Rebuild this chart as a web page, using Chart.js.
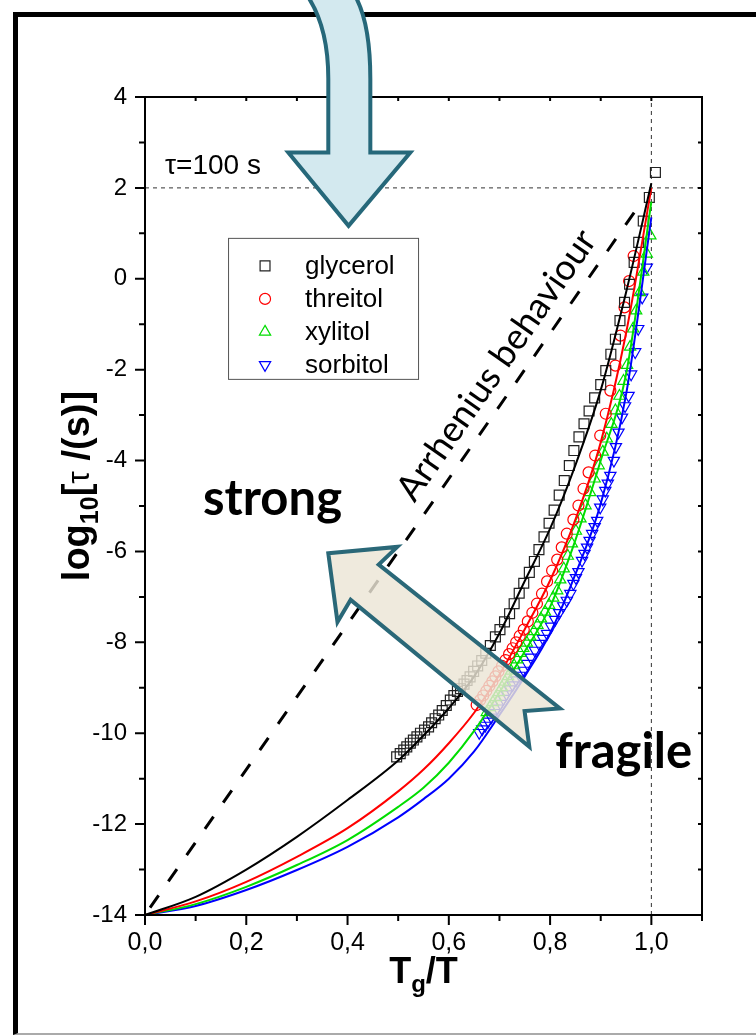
<!DOCTYPE html>
<html>
<head>
<meta charset="utf-8">
<script src="https://cdn.jsdelivr.net/npm/chart.js@4.4.1/dist/chart.umd.min.js"></script>
<style>
  html, body { margin: 0; padding: 0; background: #fff; overflow: hidden; }
  #frame { position: absolute; left: 13px; top: 12px; width: 800px; height: 1016px;
           border-left: 5px solid #000; border-top: 5px solid #000; border-bottom: 2px solid #aaa; }
  #wrap { position: absolute; left: 0; top: 0; width: 756px; height: 1036px; }
</style>
</head>
<body>
<div id="frame"></div>
<div id="wrap"><canvas id="chart"></canvas></div>
<script>
// ---- values ----
var xTickValues = [0, 0.2, 0.4, 0.6, 0.8, 1.0];
var yTickValues = [-14, -12, -10, -8, -6, -4, -2, 0, 2, 4];
var seriesNames = ['glycerol', 'threitol', 'xylitol', 'sorbitol'];

var glycerolX = [0.497, 0.504, 0.511, 0.517, 0.524, 0.530, 0.537, 0.544, 0.552, 0.560, 0.566, 0.573, 0.580, 0.587, 0.595,
  0.603, 0.610, 0.617, 0.623, 0.630, 0.636, 0.642, 0.649, 0.657, 0.665, 0.673, 0.682, 0.692, 0.701, 0.710, 0.720, 0.729,
  0.739, 0.748, 0.759, 0.769, 0.778, 0.788, 0.798, 0.808, 0.818, 0.828, 0.838, 0.847, 0.857, 0.867, 0.877, 0.888, 0.900,
  0.910, 0.920, 0.929, 0.938, 0.947, 0.957, 0.966, 0.975, 0.984, 0.996, 1.008];
var glycerolY = [-10.52, -10.45, -10.37, -10.30, -10.22, -10.15, -10.08, -10.00, -9.93, -9.86, -9.77, -9.68, -9.60, -9.50, -9.39,
  -9.27, -9.17, -9.08, -9.02, -8.92, -8.84, -8.76, -8.64, -8.52, -8.40, -8.24, -8.07, -7.88, -7.72, -7.55, -7.37, -7.15,
  -6.92, -6.70, -6.46, -6.22, -5.96, -5.68, -5.38, -5.09, -4.76, -4.44, -4.11, -3.78, -3.48, -3.19, -2.91, -2.62, -2.33,
  -2.02, -1.66, -1.33, -0.92, -0.52, -0.12, 0.36, 0.80, 1.27, 1.79, 2.34];

var threitolX = [0.655, 0.662, 0.668, 0.674, 0.680, 0.686, 0.692, 0.698, 0.705, 0.712, 0.719, 0.726, 0.733, 0.740, 0.748,
  0.756, 0.765, 0.774, 0.784, 0.794, 0.804, 0.814, 0.823, 0.833, 0.846, 0.856, 0.866, 0.876, 0.889, 0.899, 0.910, 0.919,
  0.929, 0.939, 0.947, 0.956, 0.965];
var threitolY = [-9.38, -9.27, -9.17, -9.07, -8.96, -8.86, -8.75, -8.64, -8.52, -8.39, -8.26, -8.13, -8.00, -7.86, -7.72,
  -7.54, -7.35, -7.15, -6.93, -6.66, -6.42, -6.18, -5.91, -5.61, -5.30, -4.99, -4.62, -4.26, -3.89, -3.45, -2.97, -2.46,
  -1.91, -1.25, -0.63, -0.05, 0.50];

var xylitolX = [0.675, 0.681, 0.687, 0.693, 0.699, 0.705, 0.711, 0.717, 0.723, 0.729, 0.735, 0.741, 0.747, 0.754, 0.761,
  0.768, 0.775, 0.782, 0.790, 0.798, 0.806, 0.814, 0.820, 0.827, 0.835, 0.843, 0.851, 0.860, 0.870, 0.879, 0.888, 0.896,
  0.904, 0.912, 0.921, 0.929, 0.937, 0.945, 0.952, 0.958, 0.964, 0.970, 0.977, 0.984, 0.991, 0.998];
var xylitolY = [-9.54, -9.43, -9.32, -9.21, -9.10, -8.99, -8.87, -8.75, -8.63, -8.51, -8.38, -8.24, -8.13, -8.01, -7.88,
  -7.76, -7.62, -7.48, -7.33, -7.18, -7.02, -6.86, -6.62, -6.38, -6.10, -5.83, -5.55, -5.28, -4.99, -4.70, -4.40, -4.11,
  -3.81, -3.52, -3.20, -2.90, -2.58, -2.25, -1.90, -1.50, -1.10, -0.70, -0.30, 0.15, 0.55, 0.95];

var sorbitolX = [0.660, 0.666, 0.672, 0.678, 0.684, 0.690, 0.696, 0.702, 0.708, 0.714, 0.720, 0.726, 0.733, 0.740, 0.748,
  0.755, 0.762, 0.770, 0.778, 0.786, 0.794, 0.802, 0.810, 0.818, 0.826, 0.833, 0.840, 0.846, 0.851, 0.856, 0.863, 0.868,
  0.873, 0.878, 0.883, 0.888, 0.893, 0.899, 0.904, 0.909, 0.914, 0.919, 0.926, 0.930, 0.935, 0.942, 0.948, 0.955, 0.960,
  0.968, 0.974, 0.982, 0.991];
var sorbitolY = [-9.99, -9.91, -9.83, -9.74, -9.65, -9.55, -9.45, -9.35, -9.24, -9.14, -9.03, -8.94, -8.83, -8.73, -8.62,
  -8.47, -8.33, -8.18, -8.03, -7.92, -7.81, -7.65, -7.50, -7.35, -7.20, -7.08, -6.93, -6.71, -6.58, -6.45, -6.20, -6.05,
  -5.91, -5.76, -5.61, -5.46, -5.32, -5.03, -4.85, -4.66, -4.50, -4.33, -4.00, -3.70, -3.38, -3.05, -2.80, -2.57, -2.10,
  -1.61, -1.10, -0.41, 0.25];

// fitted curves
var fitX = [0, 0.1, 0.2, 0.3, 0.4, 0.5, 0.55, 0.6, 0.65, 0.7, 0.75, 0.8, 0.85, 0.9, 0.95, 1.0];
var glycerolFit = [-14, -13.6, -13.0, -12.28, -11.47, -10.6, -10.05, -9.45, -8.75, -7.8, -6.65, -5.5, -4.1, -2.45, -0.3, 2.1];
var threitolFit = [-14, -13.7, -13.27, -12.72, -12.09, -11.28, -10.8, -10.22, -9.55, -8.71, -7.71, -6.64, -5.3, -3.6, -1.2, 2.0];
var xylitolFit = [-14, -13.76, -13.38, -12.9, -12.35, -11.62, -11.2, -10.65, -9.95, -9.1, -8.2, -7.22, -5.75, -4.0, -2.1, 1.7];
var sorbitolFit = [-14, -13.8, -13.45, -13.01, -12.5, -11.85, -11.45, -11.0, -10.4, -9.6, -8.75, -7.8, -6.5, -4.95, -2.55, 1.35];

// Arrhenius line and guide lines
var arrheniusX = [0.01, 0.98];
var arrheniusY = [-13.84, 1.68];
var tauLineX = [0, 1.1];
var tauLineY = [2, 2];
var tgLineX = [1, 1];
var tgLineY = [-14, 4];

function pts(xs, ys) {
  var out = [];
  for (var i = 0; i < xs.length; i++) out.push({ x: xs[i], y: ys[i] });
  return out;
}

var fontSans = '"Liberation Sans", Arial, sans-serif';
var fontGill = 'Lato, "Open Sans", sans-serif';

var markerSets = [
  { data: pts(glycerolX, glycerolY), pointStyle: 'rect', pointRadius: 7, pointBorderColor: '#222', rotation: 0 },
  { data: pts(threitolX, threitolY), pointStyle: 'circle', pointRadius: 5.5, pointBorderColor: '#ff0000', rotation: 0 },
  { data: pts(xylitolX, xylitolY), pointStyle: 'triangle', pointRadius: 6.5, pointBorderColor: '#00dd00', rotation: 0 },
  { data: pts(sorbitolX, sorbitolY), pointStyle: 'triangle', pointRadius: 6.5, pointBorderColor: '#0000ff', rotation: 180 }
];
var fitSets = [
  { data: pts(fitX, glycerolFit), borderColor: '#000000' },
  { data: pts(fitX, threitolFit), borderColor: '#ff0000' },
  { data: pts(fitX, xylitolFit), borderColor: '#00dd00' },
  { data: pts(fitX, sorbitolFit), borderColor: '#0000ff' }
];

var datasets = [];
fitSets.forEach(function (f, i) {
  datasets.push({
    label: seriesNames[i] + ' fit', data: f.data, showLine: true, borderColor: f.borderColor,
    borderWidth: 2, pointRadius: 0, cubicInterpolationMode: 'monotone', order: 0
  });
});
datasets.push({
  label: 'Arrhenius', data: pts(arrheniusX, arrheniusY), showLine: true, borderColor: '#000',
  borderWidth: 3, borderDash: [15, 17], pointRadius: 0, order: 0
});
datasets.push({
  label: 'tau', data: pts(tauLineX, tauLineY), showLine: true, borderColor: '#333',
  borderWidth: 1, borderDash: [4, 4], pointRadius: 0, order: 2
});
datasets.push({
  label: 'Tg', data: pts(tgLineX, tgLineY), showLine: true, borderColor: '#333',
  borderWidth: 1, borderDash: [4, 4], pointRadius: 0, order: 2
});
markerSets.forEach(function (m, i) {
  datasets.push({
    label: seriesNames[i], data: m.data, showLine: false, pointStyle: m.pointStyle,
    pointRadius: m.pointRadius, pointBorderColor: m.pointBorderColor, pointBackgroundColor: 'rgba(0,0,0,0)',
    pointBorderWidth: 1.2, pointRotation: m.rotation, order: 1
  });
});

function drawMarker(ctx, style, r, rot, x, y, color) {
  ctx.save();
  ctx.strokeStyle = color;
  ctx.lineWidth = 1.2;
  ctx.beginPath();
  if (style === 'rect') {
    var s = r * Math.SQRT1_2;
    ctx.rect(x - s, y - s, 2 * s, 2 * s);
  } else if (style === 'circle') {
    ctx.arc(x, y, r, 0, Math.PI * 2);
  } else {
    var a = rot * Math.PI / 180;
    for (var k = 0; k < 3; k++) {
      var px = x + Math.sin(a) * r, py = y - Math.cos(a) * r;
      k ? ctx.lineTo(px, py) : ctx.moveTo(px, py);
      a += Math.PI * 2 / 3;
    }
    ctx.closePath();
  }
  ctx.stroke();
  ctx.restore();
}

var decor = {
  id: 'decor',
  afterDraw: function (chart) {
    var ctx = chart.ctx, a = chart.chartArea, sx = chart.scales.x, sy = chart.scales.y;
    var X = function (v) { return sx.getPixelForValue(v); };
    var Y = function (v) { return sy.getPixelForValue(v); };
    ctx.save();

    // plot box
    ctx.strokeStyle = '#000';
    ctx.lineWidth = 2;
    ctx.strokeRect(a.left, a.top, a.right - a.left, a.bottom - a.top);

    // ticks
    ctx.beginPath();
    for (var i = 0; i <= 11; i++) {
      var xv = X(i / 10), len = i % 2 === 0 ? 10 : 6;
      ctx.moveTo(xv, a.bottom); ctx.lineTo(xv, a.bottom + len);
      ctx.moveTo(xv, a.top); ctx.lineTo(xv, a.top + 4);
    }
    for (var j = -14; j <= 4; j++) {
      var yv = Y(j), ln = j % 2 === 0 ? 10 : 6;
      ctx.moveTo(a.left, yv); ctx.lineTo(a.left - ln, yv);
      ctx.moveTo(a.right, yv); ctx.lineTo(a.right - 4, yv);
    }
    ctx.stroke();

    // tau = 100 s label
    ctx.fillStyle = '#000';
    ctx.font = '28px ' + fontSans;
    ctx.textAlign = 'left';
    ctx.textBaseline = 'alphabetic';
    ctx.fillText('\u03c4=100 s', X(0.0395), Y(2.3));

    // legend
    var lx = X(0.164), ly = Y(0.9);
    ctx.lineWidth = 1;
    ctx.strokeStyle = '#555';
    ctx.strokeRect(lx + 0.5, ly + 0.5, 190, 141);
    ctx.font = '26px ' + fontSans;
    ctx.textBaseline = 'middle';
    markerSets.forEach(function (m, k) {
      var ry = ly + 28 + k * 33;
      drawMarker(ctx, m.pointStyle, m.pointRadius, m.rotation, lx + 37, ry, m.pointBorderColor);
      ctx.fillStyle = '#000';
      ctx.fillText(seriesNames[k], lx + 77, ry + 1);
    });

    // Arrhenius behaviour
    var ang = Math.atan2(Y(2) - Y(-14), X(1) - X(0));
    var cx = X(0.736), cy = Y(-14 + 16 * 0.736);
    ctx.save();
    ctx.translate(cx + Math.sin(ang) * 14, cy - Math.cos(ang) * 14);
    ctx.rotate(ang);
    ctx.font = '36px ' + fontGill;
    ctx.textAlign = 'center';
    ctx.textBaseline = 'alphabetic';
    ctx.fillText('Arrhenius behaviour', 0, 0);
    ctx.restore();

    // strong / fragile
    ctx.font = 'bold 49px ' + fontGill;
    ctx.textAlign = 'left';
    ctx.textBaseline = 'alphabetic';
    ctx.fillText('strong', X(0.1146), Y(-5.19));
    ctx.fillText('fragile', X(0.81), Y(-10.77));

    // tan arrow (fragile -> strong)
    var tipX = X(0.362), tipY = Y(-6.04), tailX = X(0.791), tailY = Y(-9.85);
    var L = Math.hypot(tailX - tipX, tailY - tipY);
    var bx = (tailX - tipX) / L, by = (tailY - tipY) / L, nx = by, ny = -bx;
    var shape = [[0, 0], [50, 48], [46.5, 22.5], [L, 23], [L - 26, -1], [L, -26], [46.5, -22.5], [50, -48]];
    ctx.beginPath();
    shape.forEach(function (p, k) {
      var qx = tipX + p[0] * bx + p[1] * nx, qy = tipY + p[0] * by + p[1] * ny;
      k ? ctx.lineTo(qx, qy) : ctx.moveTo(qx, qy);
    });
    ctx.closePath();
    ctx.fillStyle = 'rgba(235,229,213,0.82)';
    ctx.fill();
    ctx.lineJoin = 'miter';
    ctx.lineWidth = 4;
    ctx.strokeStyle = '#2a6878';
    ctx.stroke();

    // blue curved arrow from the top
    ctx.beginPath();
    ctx.moveTo(X(0.316), Y(6.3));
    ctx.quadraticCurveTo(X(0.362), Y(5.6), X(0.362), Y(4.4));
    ctx.lineTo(X(0.362), Y(2.78));
    ctx.lineTo(X(0.283), Y(2.78));
    ctx.lineTo(X(0.402), Y(1.165));
    ctx.lineTo(X(0.524), Y(2.78));
    ctx.lineTo(X(0.445), Y(2.78));
    ctx.lineTo(X(0.445), Y(4.4));
    ctx.quadraticCurveTo(X(0.445), Y(5.7), X(0.411), Y(6.3));
    ctx.fillStyle = '#d3e9ef';
    ctx.fill();
    ctx.strokeStyle = '#26687a';
    ctx.stroke();

    // axis titles
    var big = 'bold 36px ' + fontSans, small = 'bold 24px ' + fontSans;
    ctx.fillStyle = '#000';
    ctx.textAlign = 'left';
    ctx.textBaseline = 'alphabetic';
    ctx.font = big;
    var wT = ctx.measureText('T').width, wR = ctx.measureText('/T').width;
    ctx.font = small;
    var wg = ctx.measureText('g').width;
    var x0 = (a.left + a.right) / 2 - (wT + wg + wR) / 2, base = a.bottom + 68;
    ctx.font = big; ctx.fillText('T', x0, base);
    ctx.font = small; ctx.fillText('g', x0 + wT, base + 9);
    ctx.font = big; ctx.fillText('/T', x0 + wT + wg, base);

    var ybig = 'bold 38px ' + fontSans, ysmall = 'bold 25px ' + fontSans;
    var parts = [['log', ybig, 0], ['10', ysmall, 9], ['[', ybig, 0], ['\u03c4', '32px ' + fontSans, 0], [' /(s)]', ybig, 0]];
    var total = 0;
    parts.forEach(function (p) { ctx.font = p[1]; total += ctx.measureText(p[0]).width; });
    ctx.save();
    ctx.translate(89, (a.top + a.bottom) / 2 - 20);
    ctx.rotate(-Math.PI / 2);
    var px = -total / 2;
    parts.forEach(function (p) {
      ctx.font = p[1];
      ctx.fillText(p[0], px, p[2]);
      px += ctx.measureText(p[0]).width;
    });
    ctx.restore();

    ctx.restore();
  }
};

new Chart(document.getElementById('chart'), {
  type: 'scatter',
  data: { datasets: datasets },
  options: {
    responsive: true,
    maintainAspectRatio: false,
    animation: false,
    devicePixelRatio: 1,
    layout: { padding: { top: 97, right: 54, left: 0, bottom: 0 } },
    plugins: { legend: { display: false }, tooltip: { enabled: false } },
    scales: {
      x: {
        type: 'linear', min: 0, max: 1.1,
        afterBuildTicks: function (s) { s.ticks = xTickValues.map(function (v) { return { value: v }; }); },
        afterFit: function (s) { s.height = 121; },
        grid: { display: false, drawTicks: false },
        border: { display: false },
        ticks: {
          padding: 13, color: '#000', maxRotation: 0, autoSkip: false,
          font: { family: fontSans, size: 25 },
          callback: function (v) { return Number(v).toFixed(1).replace('.', ','); }
        }
      },
      y: {
        type: 'linear', min: -14, max: 4,
        afterBuildTicks: function (s) { s.ticks = yTickValues.map(function (v) { return { value: v }; }); },
        afterFit: function (s) { s.width = 145; },
        grid: { display: false, drawTicks: false },
        border: { display: false },
        ticks: {
          padding: 18, color: '#000', autoSkip: false,
          font: { family: fontSans, size: 24 },
          callback: function (v) { return String(v); }
        }
      }
    }
  },
  plugins: [decor]
});
</script>
</body>
</html>
